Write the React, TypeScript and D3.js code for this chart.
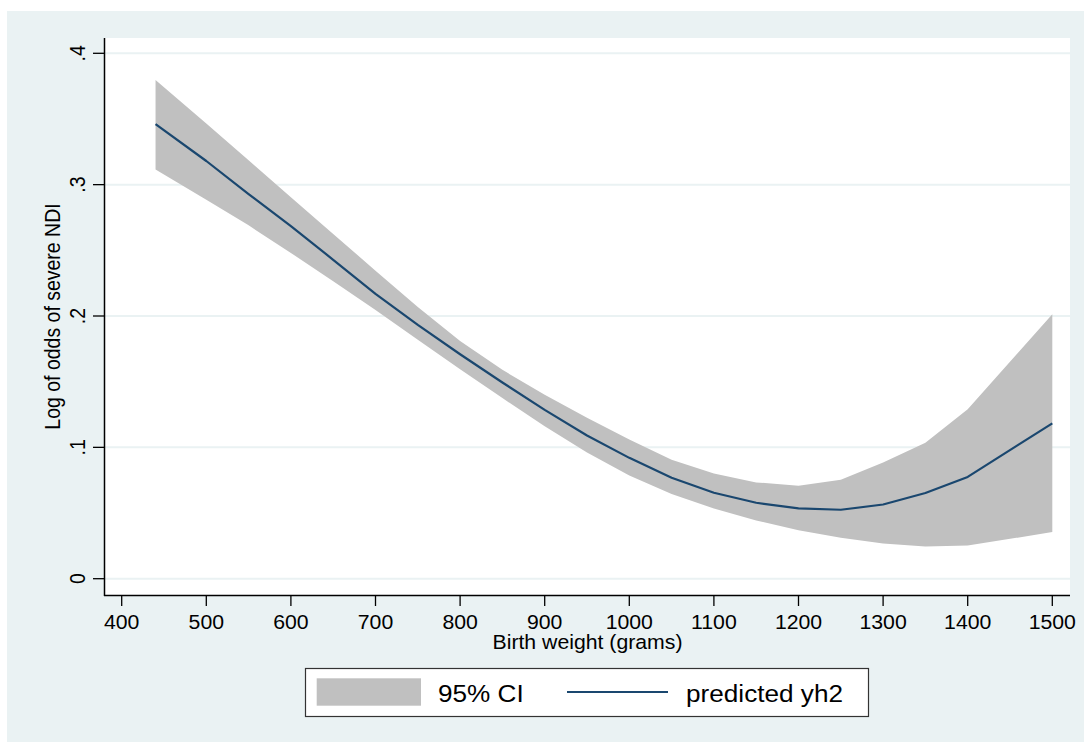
import React from "react";
import * as d3 from "d3";

// Birth weight grid (grams) with predicted log-odds and 95% CI bounds
const weights = [440, 500, 550, 600, 650, 700, 750, 800, 850, 900, 950, 1000, 1050, 1100, 1150, 1200, 1250, 1300, 1350, 1400, 1500];
const predicted = [0.346, 0.318, 0.2928, 0.2685, 0.2428, 0.2168, 0.1932, 0.1709, 0.1494, 0.1285, 0.109, 0.092, 0.0769, 0.0654, 0.0578, 0.0536, 0.0525, 0.0565, 0.0652, 0.0775, 0.1183];
const ciLower = [0.3115, 0.2885, 0.269, 0.248, 0.2265, 0.2045, 0.182, 0.1595, 0.1375, 0.116, 0.096, 0.0785, 0.0645, 0.0535, 0.0444, 0.0369, 0.0311, 0.0268, 0.0245, 0.0252, 0.0355];
const ciUpper = [0.3797, 0.3465, 0.3185, 0.2905, 0.2625, 0.2345, 0.2068, 0.181, 0.159, 0.14, 0.1225, 0.106, 0.0906, 0.08, 0.0733, 0.0708, 0.0754, 0.0885, 0.1035, 0.129, 0.2013];

const xTicks = [400, 500, 600, 700, 800, 900, 1000, 1100, 1200, 1300, 1400, 1500];
const yTicks = [0, 0.1, 0.2, 0.3, 0.4];
const yTickLabels = ["0", ".1", ".2", ".3", ".4"];

const W = 1084;
const H = 742;
const BG = "#eaf2f3";
const NAVY = "#1a476f";
const CI_FILL = "#c0c0c0";
const FONT = "'Liberation Sans', Arial, Helvetica, sans-serif";
const SX = 1.09;

const plot = { left: 105, top: 38, right: 1070, bottom: 595.5 };

export default function App() {
  const x = d3.scaleLinear().domain([400, 1500]).range([121.7, 1052.3]);
  const y = d3.scaleLinear().domain([0, 0.4]).range([578.7, 53.3]);

  const rows = weights.map((w, i) => ({ w, p: predicted[i], lo: ciLower[i], hi: ciUpper[i] }));

  const area = d3
    .area<(typeof rows)[number]>()
    .x((d) => x(d.w))
    .y0((d) => y(d.lo))
    .y1((d) => y(d.hi));
  const line = d3
    .line<(typeof rows)[number]>()
    .x((d) => x(d.w))
    .y((d) => y(d.p));

  return (
    <svg
      width={W}
      height={H}
      viewBox={`0 0 ${W} ${H}`}
      style={{ position: "absolute", left: 0, top: 0, background: "#ffffff" }}
      fontFamily={FONT}
    >
      <rect x={7} y={11} width={W - 7} height={H - 11} fill={BG} />
      <rect x={plot.left} y={plot.top} width={plot.right - plot.left} height={plot.bottom - plot.top} fill="#ffffff" />

      {/* horizontal grid */}
      {yTicks.map((t) => (
        <line key={`g${t}`} x1={plot.left} x2={plot.right} y1={y(t)} y2={y(t)} stroke={BG} strokeWidth={2} />
      ))}

      {/* confidence band and prediction */}
      <path d={area(rows) ?? ""} fill={CI_FILL} />
      <path d={line(rows) ?? ""} fill="none" stroke={NAVY} strokeWidth={2.2} strokeLinejoin="round" />

      {/* axes */}
      <line x1={plot.left - 0.5} x2={plot.left - 0.5} y1={plot.top} y2={plot.bottom + 0.5} stroke="#000" strokeWidth={1.5} />
      <line x1={plot.left - 1} x2={plot.right} y1={plot.bottom} y2={plot.bottom} stroke="#000" strokeWidth={1.5} />

      {yTicks.map((t, i) => (
        <g key={`yt${t}`}>
          <line x1={93} x2={plot.left - 0.5} y1={y(t)} y2={y(t)} stroke="#000" strokeWidth={1.3} />
          <text
            transform={`translate(85,${y(t)}) scale(${SX},1) rotate(-90)`}
            textAnchor="middle"
            fontSize={19.5}
            fill="#000"
          >
            {yTickLabels[i]}
          </text>
        </g>
      ))}

      {xTicks.map((t) => (
        <g key={`xt${t}`}>
          <line x1={x(t)} x2={x(t)} y1={plot.bottom} y2={606} stroke="#000" strokeWidth={1.3} />
          <text transform={`translate(${x(t)},629.3) scale(${SX},1)`} textAnchor="middle" fontSize={19.5} fill="#000">
            {t}
          </text>
        </g>
      ))}

      {/* axis titles */}
      <text transform={`translate(587.5,648.5) scale(${SX},1)`} textAnchor="middle" fontSize={19.5} fill="#000">
        Birth weight (grams)
      </text>
      <text
        transform={`translate(60,316.5) scale(${SX},1) rotate(-90)`}
        textAnchor="middle"
        fontSize={19.5}
        fill="#000"
      >
        Log of odds of severe NDI
      </text>

      {/* legend */}
      <rect x={305.5} y={668.5} width={563} height={48} fill="#ffffff" stroke="#333" strokeWidth={1.2} />
      <rect x={316.7} y={678.3} width={104.3} height={27.4} fill={CI_FILL} />
      <text transform={`translate(438,702) scale(${SX},1)`} fontSize={24} fill="#000">
        95% CI
      </text>
      <line x1={567} x2={668} y1={692} y2={692} stroke={NAVY} strokeWidth={2.2} />
      <text transform={`translate(686,702) scale(${SX},1)`} fontSize={24} fill="#000">
        predicted yh2
      </text>
    </svg>
  );
}
